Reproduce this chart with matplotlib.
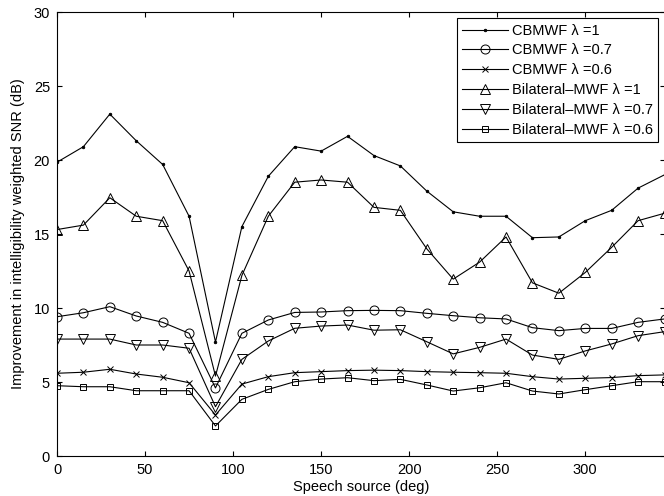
import numpy as np
import matplotlib
matplotlib.use("Agg")
import matplotlib.pyplot as plt

plt.rcParams["font.family"] = ["Liberation Sans", "DejaVu Sans"]
plt.rcParams["font.size"] = 10.5

# speech source angle, one value every 15 degrees
angulo = np.arange(0, 360, 15)

# improvement in intelligibility weighted SNR (dB)
cbmwf_1 = [19.85, 20.9, 23.1, 21.3, 19.7, 16.2, 7.7, 15.5, 18.9, 20.9, 20.6, 21.6,
           20.3, 19.6, 17.9, 16.5, 16.2, 16.2, 14.75, 14.8, 15.9, 16.6, 18.1, 19.0]
cbmwf_07 = [9.41, 9.68, 10.09, 9.46, 9.03, 8.29, 4.6, 8.29, 9.19, 9.7, 9.73, 9.82,
            9.84, 9.82, 9.64, 9.48, 9.34, 9.26, 8.67, 8.47, 8.62, 8.62, 9.03, 9.26]
cbmwf_06 = [5.59, 5.66, 5.86, 5.54, 5.32, 4.95, 2.77, 4.86, 5.36, 5.63, 5.7, 5.77,
            5.8, 5.77, 5.7, 5.66, 5.63, 5.59, 5.36, 5.2, 5.25, 5.3, 5.43, 5.48]
bil_1 = [15.3, 15.6, 17.45, 16.2, 15.9, 12.5, 5.4, 12.2, 16.2, 18.5, 18.65, 18.5,
         16.8, 16.6, 14.0, 11.95, 13.1, 14.8, 11.7, 11.0, 12.4, 14.1, 15.9, 16.4]
bil_07 = [7.9, 7.9, 7.9, 7.5, 7.5, 7.28, 3.33, 6.53, 7.77, 8.63, 8.78, 8.85,
          8.5, 8.53, 7.72, 6.9, 7.34, 7.9, 6.82, 6.53, 7.1, 7.57, 8.13, 8.4]
bil_06 = [4.75, 4.68, 4.68, 4.41, 4.41, 4.41, 2.03, 3.83, 4.5, 5.02, 5.2, 5.29,
          5.09, 5.18, 4.8, 4.39, 4.61, 4.95, 4.39, 4.19, 4.48, 4.75, 5.02, 5.02]

etiquetas = ["CBMWF \u03bb =1", "CBMWF \u03bb =0.7", "CBMWF \u03bb =0.6",
             "Bilateral\u2013MWF \u03bb =1", "Bilateral\u2013MWF \u03bb =0.7",
             "Bilateral\u2013MWF \u03bb =0.6"]

fig = plt.figure(figsize=(6.64, 4.96), dpi=100)
ax = fig.add_axes([57 / 664, 40 / 496, 607.5 / 664, 444 / 496])

# all curves are thin black lines with open markers
estilo = dict(color="black", linewidth=0.8, markeredgecolor="black", markeredgewidth=0.7)
ax.plot(angulo, cbmwf_1, marker=".", markersize=3.5, markerfacecolor="black",
        label=etiquetas[0], **estilo)
ax.plot(angulo, cbmwf_07, marker="o", markersize=6.5, markerfacecolor="none",
        label=etiquetas[1], **estilo)
ax.plot(angulo, cbmwf_06, marker="x", markersize=4.5, markerfacecolor="none",
        label=etiquetas[2], **estilo)
ax.plot(angulo, bil_1, marker="^", markersize=7, markerfacecolor="none",
        label=etiquetas[3], **estilo)
ax.plot(angulo, bil_07, marker="v", markersize=7, markerfacecolor="none",
        label=etiquetas[4], **estilo)
ax.plot(angulo, bil_06, marker="s", markersize=5, markerfacecolor="none",
        label=etiquetas[5], **estilo)

ax.set_xlim(0, 345)
ax.set_ylim(0, 30)
ax.set_xticks(np.arange(0, 301, 50))
ax.set_yticks(np.arange(0, 31, 5))
ax.tick_params(direction="in", length=3.5, width=0.8, top=True, right=True, pad=5)
for lado in ax.spines.values():
    lado.set_linewidth(0.8)

ax.set_xlabel("Speech source (deg)", labelpad=2)
ax.set_ylabel("Improvement in intelligibility weighted SNR (dB)", labelpad=6)

ley = ax.legend(loc="upper right", fancybox=False, framealpha=1, edgecolor="black",
                borderaxespad=0.42, handlelength=3.15, handletextpad=0.25,
                labelspacing=0.4, borderpad=0.38)
ley.get_frame().set_linewidth(0.8)

fig.savefig("out.png", dpi=100)
